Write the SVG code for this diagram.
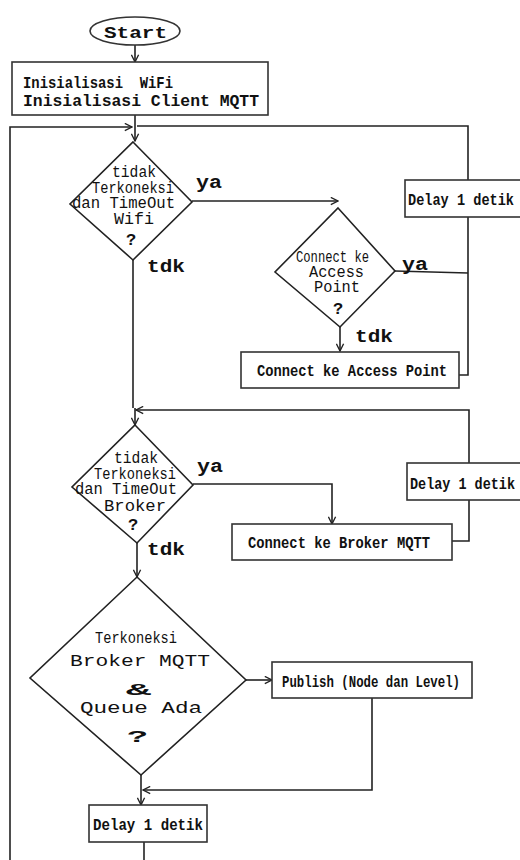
<svg xmlns="http://www.w3.org/2000/svg" width="520" height="860" viewBox="0 0 520 860">
<style>
.box{fill:#fff;stroke:#333;stroke-width:1.6}
.dia{fill:#fff;stroke:#222;stroke-width:1.6}
.con{fill:none;stroke:#222;stroke-width:1.6}
.bt{font-family:"Liberation Mono",monospace;font-weight:bold;font-size:17px;fill:#111}
.dt{font-family:"Liberation Mono",monospace;font-size:16px;fill:#111}
.lb{font-family:"Liberation Mono",monospace;font-weight:bold;font-size:19px;fill:#111}
</style>
<defs>
<marker id="ah" viewBox="0 0 10 10" refX="9" refY="5" markerWidth="9" markerHeight="9" markerUnits="userSpaceOnUse" orient="auto">
<path d="M1,1 L9,5 L1,9" fill="none" stroke="#222" stroke-width="1.5"/>
</marker>
</defs>
<rect width="520" height="860" fill="#fff"/>
<g id="connectors">
<path class="con" d="M135,44 V62" marker-end="url(#ah)"/>
<path class="con" d="M135,115 V141" marker-end="url(#ah)"/>
<path class="con" d="M10,860 V127 H132" marker-end="url(#ah)"/>
<path class="con" d="M137,126 H468 V180"/>
<path class="con" d="M192,201 H338" marker-end="url(#ah)"/>
<path class="con" d="M133,260 V408"/>
<path class="con" d="M395,271 L468,273"/>
<path class="con" d="M468,217 V375 H459"/>
<path class="con" d="M340,327 V351" marker-end="url(#ah)"/>
<path class="con" d="M469,463 V410 H136" marker-end="url(#ah)"/>
<path class="con" d="M135,408 V425" marker-end="url(#ah)"/>
<path class="con" d="M469,500 V541 H452"/>
<path class="con" d="M193,484 H332 V524" marker-end="url(#ah)"/>
<path class="con" d="M137,543 V577" marker-end="url(#ah)"/>
<path class="con" d="M246,680 H272" marker-end="url(#ah)"/>
<path class="con" d="M372,698 V790 H143" marker-end="url(#ah)"/>
<path class="con" d="M141,775 V805" marker-end="url(#ah)"/>
<path class="con" d="M144,842 V860"/>
</g>
<g id="start">
<ellipse cx="135" cy="31" rx="45" ry="14" class="box"/>
<text x="104" y="38" class="bt" font-size="22" textLength="63" lengthAdjust="spacingAndGlyphs">Start</text>
</g>
<g id="init">
<rect x="12" y="62" width="256" height="53" class="box"/>
<text x="23" y="88" class="bt" textLength="150" lengthAdjust="spacingAndGlyphs" xml:space="preserve">Inisialisasi  WiFi</text>
<text x="23" y="106" class="bt" textLength="236" lengthAdjust="spacingAndGlyphs">Inisialisasi Client MQTT</text>
</g>
<g id="d1">
<polygon points="133,142 192,202 133,260 70,204" class="dia"/>
<text x="112" y="177" class="dt" textLength="44" lengthAdjust="spacingAndGlyphs">tidak</text>
<text x="92" y="193" class="dt" textLength="82" lengthAdjust="spacingAndGlyphs">Terkoneksi</text>
<text x="72" y="208" class="dt" textLength="103" lengthAdjust="spacingAndGlyphs">dan TimeOut</text>
<text x="114" y="224" class="dt" textLength="40" lengthAdjust="spacingAndGlyphs">Wifi</text>
<text x="126" y="245" class="bt" font-size="19">?</text>
<text x="196" y="188" class="lb" textLength="26" lengthAdjust="spacingAndGlyphs">ya</text>
<text x="147" y="272" class="lb" textLength="38" lengthAdjust="spacingAndGlyphs">tdk</text>
</g>
<g id="d2">
<polygon points="338,208 395,271 340,327 275,272" class="dia"/>
<text x="296" y="262" class="dt" textLength="73" lengthAdjust="spacingAndGlyphs">Connect ke</text>
<text x="309" y="277" class="dt" textLength="55" lengthAdjust="spacingAndGlyphs">Access</text>
<text x="314" y="292" class="dt" textLength="46" lengthAdjust="spacingAndGlyphs">Point</text>
<text x="333" y="314" class="bt" font-size="19">?</text>
<text x="402" y="270" class="lb" textLength="26" lengthAdjust="spacingAndGlyphs">ya</text>
<text x="355" y="342" class="lb" textLength="38" lengthAdjust="spacingAndGlyphs">tdk</text>
</g>
<g id="delay1">
<rect x="405" y="180" width="130" height="37" class="box"/>
<text x="408" y="205" class="bt" textLength="106" lengthAdjust="spacingAndGlyphs">Delay 1 detik</text>
</g>
<g id="connectAP">
<rect x="241" y="352" width="218" height="36" class="box"/>
<text x="257" y="376" class="bt" textLength="190" lengthAdjust="spacingAndGlyphs">Connect ke Access Point</text>
</g>
<g id="d3">
<polygon points="135,425 193,485 137,543 72,487" class="dia"/>
<text x="114" y="463" class="dt" textLength="44" lengthAdjust="spacingAndGlyphs">tidak</text>
<text x="94" y="479" class="dt" textLength="82" lengthAdjust="spacingAndGlyphs">Terkoneksi</text>
<text x="75" y="494" class="dt" textLength="102" lengthAdjust="spacingAndGlyphs">dan TimeOut</text>
<text x="104" y="511" class="dt" textLength="62" lengthAdjust="spacingAndGlyphs">Broker</text>
<text x="128" y="530" class="bt" font-size="19">?</text>
<text x="197" y="472" class="lb" textLength="26" lengthAdjust="spacingAndGlyphs">ya</text>
<text x="147" y="555" class="lb" textLength="38" lengthAdjust="spacingAndGlyphs">tdk</text>
</g>
<g id="delay2">
<rect x="407" y="463" width="130" height="37" class="box"/>
<text x="410" y="489" class="bt" textLength="105" lengthAdjust="spacingAndGlyphs">Delay 1 detik</text>
</g>
<g id="connectBroker">
<rect x="232" y="524" width="220" height="36" class="box"/>
<text x="248" y="548" class="bt" textLength="182" lengthAdjust="spacingAndGlyphs">Connect ke Broker MQTT</text>
</g>
<g id="d4">
<polygon points="137,577 246,680 141,775 30,678" class="dia" stroke-width="3"/>
<text x="95" y="643" class="dt" font-size="22" textLength="82" lengthAdjust="spacingAndGlyphs">Terkoneksi</text>
<text x="70" y="666" class="dt" font-size="23" textLength="140" lengthAdjust="spacingAndGlyphs">Broker MQTT</text>
<text x="126" y="695" class="bt" font-size="32" textLength="25" lengthAdjust="spacingAndGlyphs">&amp;</text>
<text x="80" y="713" class="dt" font-size="23" textLength="122" lengthAdjust="spacingAndGlyphs">Queue Ada</text>
<text x="127" y="742" class="bt" font-size="34" textLength="21" lengthAdjust="spacingAndGlyphs">?</text>
</g>
<g id="publish">
<rect x="272" y="662" width="200" height="36" class="box"/>
<text x="282" y="687" class="bt" textLength="178" lengthAdjust="spacingAndGlyphs">Publish (Node dan Level)</text>
</g>
<g id="delay3">
<rect x="89" y="805" width="118" height="37" class="box"/>
<text x="93" y="830" class="bt" textLength="110" lengthAdjust="spacingAndGlyphs">Delay 1 detik</text>
</g>
</svg>
